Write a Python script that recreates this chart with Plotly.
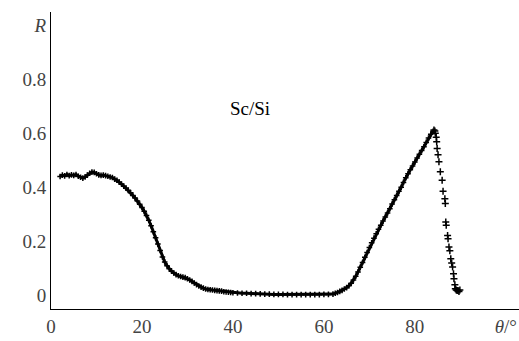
import plotly.graph_objects as go

# Main dense curve (theta in degrees, reflectance R)
theta_main = [2, 2.5, 3, 3.5, 4, 4.5, 5, 5.5, 6, 6.5, 7, 7.5, 8, 8.5, 9, 9.5, 10, 10.5, 11, 11.5,
              12, 12.5, 13, 13.5, 14, 14.5, 15, 15.5, 16, 16.5, 17, 17.5, 18, 18.5, 19, 19.5,
              20, 20.5, 21, 21.5, 22, 22.5, 23, 23.5, 24, 24.5, 25, 25.5, 26, 26.5, 27, 27.5,
              28, 28.5, 29, 29.5, 30, 30.5, 31, 31.5, 32, 32.5, 33, 33.5, 34, 34.5, 35, 35.5,
              36, 36.5, 37, 37.5, 38, 38.5, 39, 39.5, 40, 41, 42, 43, 44, 45, 46, 47, 48, 49,
              50, 51, 52, 53, 54, 55, 56, 57, 58, 59, 60, 61, 62, 62.5, 63, 63.5, 64, 64.5,
              65, 65.5, 66, 66.5, 67, 67.5, 68, 68.5, 69, 69.5, 70, 70.5, 71, 71.5, 72, 72.5,
              73, 73.5, 74, 74.5, 75, 75.5, 76, 76.5, 77, 77.5, 78, 78.5, 79, 79.5, 80, 80.5,
              81, 81.5, 82, 82.5, 83, 83.5, 84]
R_main = [0.440, 0.445, 0.442, 0.447, 0.443, 0.446, 0.444, 0.447, 0.441, 0.437, 0.434, 0.438,
          0.445, 0.452, 0.456, 0.455, 0.450, 0.446, 0.444, 0.445, 0.443, 0.441, 0.438, 0.436,
          0.430, 0.426, 0.419, 0.412, 0.404, 0.397, 0.389, 0.380, 0.370, 0.360, 0.349, 0.337,
          0.325, 0.311, 0.296, 0.278, 0.258, 0.236, 0.213, 0.190, 0.166, 0.142, 0.124, 0.110,
          0.099, 0.090, 0.083, 0.077, 0.073, 0.070, 0.068, 0.066, 0.062, 0.057, 0.052, 0.046,
          0.040, 0.035, 0.031, 0.027, 0.024, 0.022, 0.021, 0.020, 0.019, 0.018, 0.017, 0.016,
          0.014, 0.013, 0.012, 0.011, 0.010, 0.009, 0.008, 0.008, 0.007, 0.007, 0.006, 0.005,
          0.005, 0.004, 0.004, 0.004, 0.003, 0.003, 0.003, 0.003, 0.003, 0.003, 0.003, 0.003,
          0.004, 0.004, 0.005, 0.008, 0.011, 0.015, 0.019, 0.024, 0.029, 0.036, 0.045, 0.057,
          0.071, 0.087, 0.104, 0.122, 0.141, 0.159, 0.177, 0.195, 0.212, 0.228, 0.245, 0.260,
          0.275, 0.290, 0.305, 0.321, 0.338, 0.354, 0.370, 0.385, 0.400, 0.418, 0.435, 0.450,
          0.465, 0.479, 0.493, 0.508, 0.522, 0.536, 0.550, 0.566, 0.582, 0.596, 0.607]

# Sparse points on the falling edge
theta_fall = [84.2, 84.4, 84.5, 84.7, 84.8, 84.9, 85.1, 85.3, 85.6, 86.0, 86.2, 86.6, 86.7,
              86.8, 86.9, 87.2, 87.3, 87.5, 87.7, 87.9, 88.1, 88.3, 88.5, 88.6, 88.8, 88.9,
              89.1, 89.3, 89.5, 89.7, 89.9]
R_fall = [0.612, 0.608, 0.600, 0.585, 0.568, 0.543, 0.520, 0.494, 0.457, 0.426, 0.385, 0.358,
          0.340, 0.272, 0.260, 0.222, 0.210, 0.179, 0.165, 0.136, 0.120, 0.105, 0.080, 0.062,
          0.040, 0.025, 0.020, 0.018, 0.018, 0.015, 0.020]

x_tickvals = [0, 20, 40, 60, 80, 100]
x_ticktext = ["0", "20", "40", "60", "80", "<i>θ</i>/°"]
y_tickvals = [0, 0.2, 0.4, 0.6, 0.8, 1.0]
y_ticktext = ["0", "0.2", "0.4", "0.6", "0.8", "<i>R</i>"]

serif = "Liberation Serif"

fig = go.Figure()
fig.add_trace(go.Scatter(
    x=theta_main, y=R_main, mode="lines+markers",
    line=dict(color="black", width=3),
    marker=dict(symbol="cross-thin", size=4, color="black",
                line=dict(color="black", width=1.5))))
fig.add_trace(go.Scatter(
    x=theta_fall, y=R_fall, mode="markers",
    marker=dict(symbol="cross-thin", size=5, color="black",
                line=dict(color="black", width=1.5))))

fig.add_annotation(x=43.7, y=0.69, text="Sc/Si", showarrow=False,
                   font=dict(family=serif, size=19, color="black"))

fig.update_layout(
    template="none",
    width=519, height=341,
    margin=dict(l=51, r=0, t=12, b=32),
    showlegend=False,
)
fig.update_xaxes(range=[0, 102.9], tickvals=x_tickvals, ticktext=x_ticktext,
                 tickfont=dict(family=serif, size=19), showline=True,
                 linecolor="black", showgrid=False, zeroline=False,
                 ticklabeloverflow="allow")
fig.update_yaxes(range=[-0.05, 1.048], tickvals=y_tickvals, ticktext=y_ticktext,
                 tickfont=dict(family=serif, size=19), showline=True,
                 linecolor="black", showgrid=False, zeroline=False)

fig.write_html("out.html")
